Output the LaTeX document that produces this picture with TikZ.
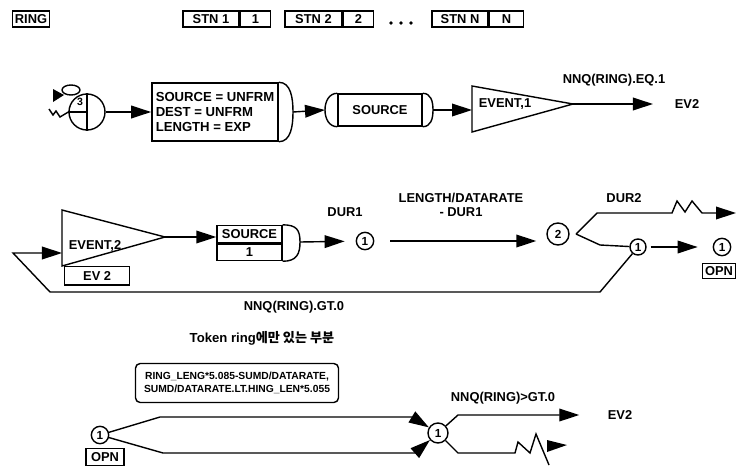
\documentclass[tikz,border=0pt]{standalone}
\usepackage{fontspec}
\setmainfont{Liberation Sans}
\newfontfamily\kr{Noto Sans CJK KR}
\usetikzlibrary{arrows.meta}

\begin{document}
\begin{tikzpicture}[x=0.03cm, y=-0.03cm, line width=1.2pt,
    every node/.style={font=\bfseries\fontsize{11}{12.5}\selectfont},
    lbl/.style={inner sep=1pt},
    tag/.style={draw, minimum height=0.48cm, inner sep=1pt},
    num/.style={draw, circle, minimum size=0.52cm, inner sep=0pt, font=\bfseries\fontsize{10}{12}\selectfont},
    arr/.style={-{Triangle[length=0.6cm,width=0.38cm]}}]

    \useasboundingbox (0,0) rectangle (737,472);

    % --- Header (top) ---
    \node[tag, minimum width=1.1cm] (ring) at (31,19) {RING};
    \node[tag, minimum width=1.68cm] (stn1) at (211,19) {STN 1};
    \node[tag, minimum width=0.9cm, anchor=west] (stn1n) at (stn1.east) {1};
    \node[tag, minimum width=1.71cm] (stn2) at (313.5,19) {STN 2};
    \node[tag, minimum width=0.9cm, anchor=west] (stn2n) at (stn2.east) {2};
    \foreach \x in {391,401,411} \fill (\x,23) circle (1.6pt);
    \node[tag, minimum width=1.68cm] (stnN) at (460,19) {STN N};
    \node[tag, minimum width=1.02cm, anchor=west] (stnNn) at (stnN.east) {N};

    % --- Row 1: create, assign, await, event ---
    \node[draw, circle, minimum size=1.08cm, inner sep=0pt] (create) at (87,112) {};
    \draw (create.north) -- (create.south);
    \draw (create.west) -- (create.center);
    \node[lbl, font=\bfseries\fontsize{9}{10}\selectfont] (three) at (80,102) {3};
    \draw (71,90) ellipse [x radius=0.27cm, y radius=0.15cm];
    \fill (53,89) -- (64,95) -- (53,102) -- cycle;
    \draw (49,109) -- (53,115) -- (56,111) -- (60,117) -- (create.west);

    \node[draw, minimum width=3.78cm, minimum height=1.74cm, align=left,
          font=\bfseries\fontsize{11.2}{12.8}\selectfont] (assign) at (215,112)
         {SOURCE = UNFRM\\DEST = UNFRM\\LENGTH = EXP};
    \coordinate (assignend) at (293,112);
    \draw (assign.north east) .. controls +(12,0) and +(0,-14) .. (assignend)
          .. controls +(0,14) and +(12,0) .. (assign.south east);
    \draw[arr] (create) -- (assign);

    \node[draw, minimum width=2.52cm, minimum height=0.96cm] (await) at (380,110) {SOURCE};
    \coordinate (awaitin) at (325,110);
    \coordinate (awaitend) at (433,110);
    \draw (await.north west) .. controls +(-8,0) and +(0,-9) .. (awaitin)
          .. controls +(0,9) and +(-8,0) .. (await.south west);
    \draw (await.north east) .. controls +(8,0) and +(0,-9) .. (awaitend)
          .. controls +(0,9) and +(8,0) .. (await.south east);
    \draw[arr] (assignend) -- (awaitin);

    \coordinate (ev1a) at (472,86);
    \coordinate (ev1b) at (573,104);
    \coordinate (ev1c) at (472,132);
    \draw (ev1a) -- (ev1b) -- (ev1c) -- cycle;
    \node[lbl, anchor=west] (ev1) at (477,104) {EVENT,1};
    \draw[arr] (awaitend) -- (ev1a |- awaitend);
    \node[lbl] (ev2top) at (687,104) {EV2};
    \draw[arr, shorten >=0.6cm] (ev1b) -- (ev2top);
    \node[lbl] (eq1) at (614,80) {NNQ(RING).EQ.1};

    % --- Row 2: event 2, source, branches ---
    \coordinate (e2a) at (62,210);
    \coordinate (e2b) at (165,237);
    \coordinate (e2c) at (62,266);
    \draw (e2a) -- (e2b) -- (e2c) -- cycle;
    \node[lbl, anchor=west] (ev2) at (67,246) {EVENT,2};
    \node[tag, minimum width=1.95cm, minimum height=0.55cm, anchor=north west] (ev2tag) at (64,266) {EV 2};

    \node[draw, minimum width=1.95cm, minimum height=0.5cm] (src) at (249.5,234) {SOURCE};
    \node[draw, minimum width=1.95cm, minimum height=0.5cm, anchor=north] (srcn) at (src.south) {1};
    \coordinate (srcend) at (300,242);
    \draw (src.north east) .. controls +(14,0) and +(0,-12) .. (srcend)
          .. controls +(0,12) and +(14,0) .. (srcn.south east);
    \draw[arr] (e2b) -- (src.west |- e2b);

    \node[num] (c1) at (365,241) {1};
    \node[lbl] (dur1) at (345,212) {DUR1};
    \draw[arr, shorten >=0.33cm] (srcend) -- (c1);

    \node[num, minimum size=0.66cm] (c2) at (558,234) {2};
    \node[lbl, align=center, font=\bfseries\fontsize{11}{11.5}\selectfont] (rate) at (461,205) {LENGTH/DATARATE\\- DUR1};
    \draw[arr, shorten <=0.48cm, shorten >=0.3cm] (c1) -- (c1 -| c2.west);

    \coordinate (fork2) at (576,234);
    \coordinate (up1) at (597,213);
    \coordinate (up2) at (672,213);
    \coordinate (dur2end) at (736,213);
    \draw[arr] (fork2) -- (up1) -- (up2) -- (677,201) -- (685,212) -- (692,201) -- (702,213) -- (dur2end);
    \node[lbl] (dur2) at (624,198) {DUR2};

    \node[num, minimum size=0.48cm] (jn) at (638,247) {1};
    \coordinate (lo1) at (600,245);
    \draw (fork2) -- (lo1) -- (jn);
    \node[num] (opn1) at (722,247) {1};
    \node[tag, minimum width=0.99cm, minimum height=0.45cm] (opn1tag) at (719,271) {OPN};
    \draw[arr, shorten <=0.12cm, shorten >=0.45cm] (jn) -- (opn1);

    % loop back to EVENT,2
    \coordinate (lpa) at (600,292);
    \coordinate (lpb) at (50,292);
    \coordinate (lpc) at (13,253);
    \draw[arr] (jn) -- (lpa) -- (lpb) -- (lpc) -- (e2a |- lpc);
    \node[lbl] (gt0) at (294,307) {NNQ(RING).GT.0};

    % --- Row 3: token ring part ---
    \node[lbl, font=\bfseries\fontsize{11.2}{12}\selectfont] (token) at (262,338) {Token ring{\kr 에만 있는 부분}};
    \node[draw, rounded corners=4pt, minimum width=6.09cm, minimum height=1.17cm, align=center,
          font=\bfseries\fontsize{8.8}{11.5}\selectfont] (cond) at (237,383)
         {RING\_LENG*5.085-SUMD/DATARATE,\\SUMD/DATARATE.LT.HING\_LEN*5.055};

    \node[num] (o1) at (100,435) {1};
    \node[tag, minimum width=1.14cm, minimum height=0.5cm] (opn2) at (105,457) {OPN};
    \node[num, minimum size=0.6cm] (o3) at (438,433) {1};

    \coordinate (ua) at (160,417);
    \coordinate (ub) at (412,417);
    \draw[arr] (o1) -- (ua) -- (ub) -- (o3);
    \coordinate (la) at (163,453);
    \coordinate (lb) at (415,453);
    \draw[arr] (o1) -- (la) -- (lb) -- (o3);

    \coordinate (ra) at (458,415);
    \node[lbl] (ev2bot) at (620,415) {EV2};
    \draw[arr, shorten >=0.8cm] (o3) -- (ra) -- (ev2bot);
    \node[lbl] (gt0b) at (503,398) {NNQ(RING)>GT.0};

    \coordinate (rb) at (458,453);
    \coordinate (rc) at (515,453);
    \draw (o3) -- (rb) -- (rc) -- (518,442) -- (530,453) -- (536,434) -- (549,465);
    \fill (547,440) -- (567,445) -- (547,452) -- cycle;

\end{tikzpicture}
\end{document}
